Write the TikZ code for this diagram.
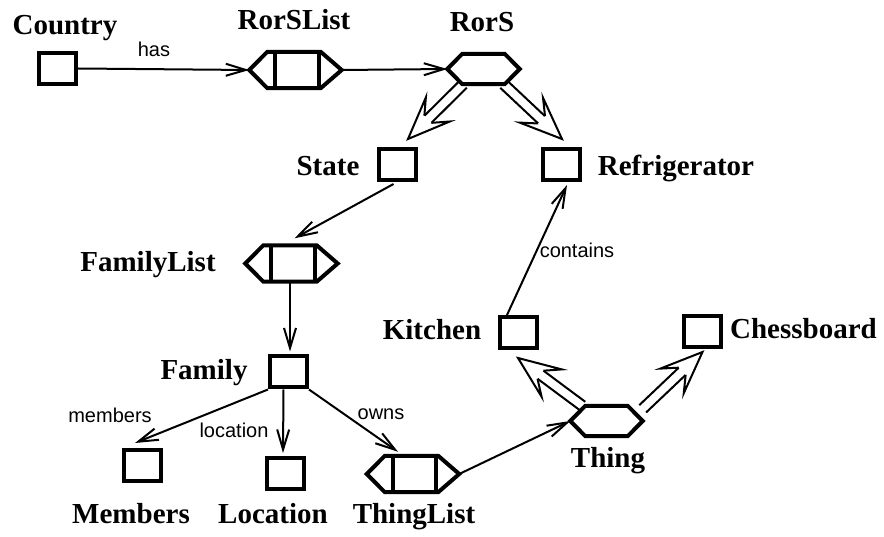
\documentclass[tikz,border=0pt]{standalone}
\usepackage{fontspec}
\setmainfont{Liberation Serif}
\setsansfont{Liberation Sans}
\usetikzlibrary{arrows.meta,calc}
\tikzset{
  lbl/.style={font=\bfseries\fontsize{29}{30}\selectfont, anchor=base, inner sep=0pt},
  elbl/.style={font=\sffamily\fontsize{20}{22}\selectfont, anchor=base, inner sep=0pt},
  box/.style={draw, line width=4pt, minimum width=37pt, minimum height=31pt, inner sep=0pt},
  listholder/.style={minimum width=92pt, minimum height=36pt, inner sep=0pt},
  hexholder/.style={minimum width=72pt, minimum height=30pt, inner sep=0pt},
  outline/.style={line width=4pt, line join=miter},
  rel/.style={line width=2pt, -{Straight Barb[length=20pt,width=12pt]}},
  dshaft/.style={line width=2pt},
  dhead/.style={line width=2pt, fill=white, line join=miter},
}
\newcommand{\listshape}[1]{%
  \draw[outline] (#1.west) -- ($(#1.north west)+(18,0)$) -- ($(#1.north east)+(-21,0)$)
    -- (#1.east) -- ($(#1.south east)+(-21,0)$) -- ($(#1.south west)+(18,0)$) -- cycle;
  \draw[outline] ($(#1.north west)+(26,0)$) -- ($(#1.south west)+(26,0)$);
  \draw[outline] ($(#1.north east)+(-23,0)$) -- ($(#1.south east)+(-23,0)$);
}
\newcommand{\hexshape}[1]{%
  \draw[outline] (#1.west) -- ($(#1.north west)+(15,0)$) -- ($(#1.north east)+(-15,0)$)
    -- (#1.east) -- ($(#1.south east)+(-15,0)$) -- ($(#1.south west)+(15,0)$) -- cycle;
}
% double-line arrow with open notched head: #1 start, #2 tip
\newcommand{\dblarrow}[2]{%
  \coordinate (da) at #1;
  \coordinate (db) at #2;
  \coordinate (dc) at ($(db)!28pt!(da)$);
  \coordinate (dd) at ($(db)!42pt!(da)$);
  \draw[dshaft] ($(da)!5pt!90:(db)$) -- ($(dc)!5pt!-90:(da)$);
  \draw[dshaft] ($(da)!5pt!-90:(db)$) -- ($(dc)!5pt!90:(da)$);
  \filldraw[dhead] ($(dc)!5pt!-90:(da)$) -- ($(dd)!17pt!-90:(da)$) -- (db)
    -- ($(dd)!17pt!90:(da)$) -- ($(dc)!5pt!90:(da)$);
}
\begin{document}
\begin{tikzpicture}[x=1pt,y=-1pt]
\useasboundingbox (0,0) rectangle (884,537);

% boxes
\node[box] (Country) at (57.5,68.5) {};
\node[box] (State) at (397.5,164.5) {};
\node[box] (Refrigerator) at (561,164.5) {};
\node[box] (Family) at (288.5,372) {};
\node[box] (Members) at (142,465.5) {};
\node[box] (Location) at (285,473.5) {};
\node[box] (Kitchen) at (518,332.5) {};
\node[box] (Chessboard) at (702.5,331.5) {};

% list shapes
\node[listholder] (RorSList) at (295.5,70) {};
\node[listholder] (FamilyList) at (291.5,263.5) {};
\node[listholder] (ThingList) at (413,474) {};
\listshape{RorSList}
\listshape{FamilyList}
\listshape{ThingList}

% hexagons
\node[hexholder] (RorS) at (483.5,69) {};
\node[hexholder] (Thing) at (606.5,421) {};
\hexshape{RorS}
\hexshape{Thing}

% names
\node[lbl] (tCountry) at (65,35) {Country};
\node[lbl] (tRorSList) at (294,30) {RorSList};
\node[lbl] (tRorS) at (482,32) {RorS};
\node[lbl] (tState) at (328,176) {State};
\node[lbl] (tRefrigerator) at (676,176) {Refrigerator};
\node[lbl] (tFamilyList) at (148,272) {FamilyList};
\node[lbl] (tFamily) at (204,380) {Family};
\node[lbl] (tMembers) at (131,523) {Members};
\node[lbl] (tLocation) at (273,523) {Location};
\node[lbl] (tThingList) at (414,523) {ThingList};
\node[lbl] (tKitchen) at (432,340) {Kitchen};
\node[lbl] (tChessboard) at (803.5,339) {Chessboard};
\node[lbl] (tThing) at (608,467) {Thing};

% edge labels
\node[elbl] (lhas) at (154,57) {has};
\node[elbl] (lcontains) at (577,258) {contains};
\node[elbl] (lmembers) at (110,422) {members};
\node[elbl] (llocation) at (234,437) {location};
\node[elbl] (lowns) at (381,420) {owns};

% relations
\draw[rel] (Country.east) -- (RorSList.west);
\draw[rel] (RorSList.east) -- (RorS.west);
\draw[rel] ($(State.south)+(-4,2)$) -- ($(FamilyList.north)+(3,-7)$);
\draw[rel] ($(FamilyList.south)+(-1.5,0)$) -- ($(Family.north)+(1.5,-3)$);
\draw[rel] (Family.south west) -- ($(Members.north)+(-7,-5)$);
\draw[rel] ($(Family.south)+(-5,0)$) -- ($(Location.north)+(-2,-3)$);
\draw[rel] (Family.south east) -- ($(ThingList.north)+(-15,-4)$);
\draw[rel] (ThingList.east) -- (Thing.west);
\draw[rel] ($(Kitchen.north)+(-11,0)$) -- ($(Refrigerator.south)+(6,3)$);

% inheritance-like double arrows
\dblarrow{($(RorS.south west)+(16,0)$)}{($(State.north east)+(-10,-8)$)}
\dblarrow{($(RorS.south east)+(-16,0)$)}{($(Refrigerator.north)+(1,-8)$)}
\dblarrow{($(Thing.north west)+(12,0)$)}{($(Kitchen.south)+(0,8)$)}
\dblarrow{($(Thing.north east)+(0,3)$)}{($(Chessboard.south)+(0,3)$)}
\end{tikzpicture}
\end{document}
